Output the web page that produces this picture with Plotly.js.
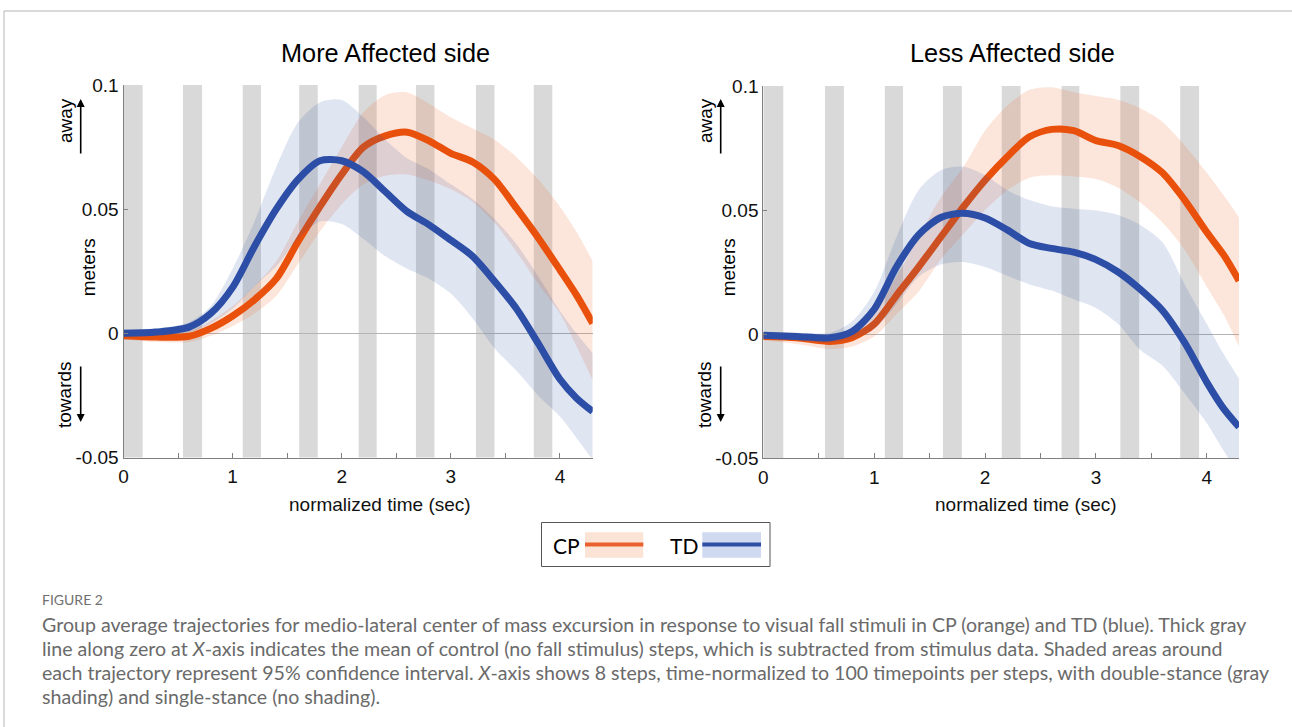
<!DOCTYPE html>
<html><head><meta charset="utf-8">
<script src="https://cdn.plot.ly/plotly-3.0.1.min.js"></script>
<style>html,body{margin:0;padding:0;background:#fff;}#chart{width:1292px;height:727px;}</style>
</head><body><div id="chart"></div>
<script>
// ---------- data ----------
const panelTitles = ['More Affected side', 'Less Affected side'];
const groupNames = ['CP', 'TD'];
const xAxisTitle = 'normalized time (sec)';
const yAxisTitle = 'meters';
const yUpLabel = 'away', yDownLabel = 'towards';
const xTickVals = [0, 0.5, 1, 1.5, 2, 2.5, 3, 3.5, 4];
const xTickText = ['0', '', '1', '', '2', '', '3', '', '4'];
const yTickVals = [-0.05, 0, 0.05, 0.1];
const yTickText = ['-0.05', '0', '0.05', '0.1'];

// double-stance phases (gray shading), seconds
const stanceStartLeft = [0, 0.545, 1.093, 1.61, 2.155, 2.68, 3.23, 3.76];
const stanceEndLeft   = [0.175, 0.72, 1.26, 1.78, 2.32, 2.85, 3.40, 3.93];
const stanceStartRight = [0, 0.556, 1.096, 1.62, 2.15, 2.69, 3.22, 3.76];
const stanceEndRight   = [0.18, 0.727, 1.26, 1.79, 2.32, 2.85, 3.39, 3.93];

// More Affected side
const tLeft = [0, 0.3, 0.6, 0.8, 1.0, 1.2, 1.4, 1.6, 1.8, 2.0, 2.2, 2.4, 2.6, 2.8, 3.0, 3.2, 3.4, 3.6, 3.8, 4.0, 4.15, 4.3];
const cpMeanLeft = [-0.001, -0.0015, -0.0012, 0.002, 0.007, 0.0135, 0.022, 0.037, 0.051, 0.064, 0.075, 0.0795, 0.081, 0.0775, 0.0725, 0.069, 0.062, 0.0505, 0.0385, 0.0255, 0.0155, 0.004];
const cpHiLeft   = [0.0005, 0.0005, 0.001, 0.005, 0.011, 0.019, 0.029, 0.045, 0.060, 0.075, 0.089, 0.096, 0.097, 0.0925, 0.087, 0.0825, 0.078, 0.071, 0.062, 0.051, 0.041, 0.029];
const cpLoLeft   = [-0.0025, -0.0035, -0.0035, -0.001, 0.003, 0.008, 0.015, 0.028, 0.041, 0.052, 0.060, 0.0635, 0.064, 0.0615, 0.058, 0.053, 0.0445, 0.033, 0.020, 0.008, -0.005, -0.019];
const tdMeanLeft = [0, 0.0005, 0.0025, 0.008, 0.0185, 0.035, 0.050, 0.062, 0.0695, 0.0695, 0.065, 0.057, 0.049, 0.0437, 0.0375, 0.031, 0.021, 0.010, -0.004, -0.0185, -0.026, -0.0315];
const tdHiLeft   = [0.0015, 0.002, 0.0045, 0.011, 0.026, 0.045, 0.067, 0.085, 0.093, 0.094, 0.087, 0.078, 0.0705, 0.066, 0.060, 0.054, 0.046, 0.036, 0.023, 0.009, 0.000, -0.008];
const tdLoLeft   = [-0.0015, -0.001, 0.0005, 0.004, 0.010, 0.019, 0.027, 0.038, 0.045, 0.044, 0.038, 0.031, 0.026, 0.022, 0.016, 0.006, -0.006, -0.015, -0.025, -0.0335, -0.042, -0.051];

// Less Affected side
const tRight = [0, 0.3, 0.6, 0.8, 1.0, 1.2, 1.4, 1.6, 1.8, 2.0, 2.2, 2.4, 2.6, 2.8, 3.0, 3.2, 3.4, 3.6, 3.8, 4.0, 4.15, 4.29];
const cpMeanRight = [-0.001, -0.0015, -0.003, -0.0015, 0.004, 0.0155, 0.027, 0.039, 0.051, 0.062, 0.0715, 0.0795, 0.0825, 0.082, 0.078, 0.076, 0.0715, 0.065, 0.054, 0.041, 0.032, 0.0215];
const cpHiRight   = [0.0005, 0.0005, -0.0005, 0.002, 0.009, 0.023, 0.039, 0.055, 0.067, 0.082, 0.092, 0.0985, 0.0995, 0.0975, 0.096, 0.0945, 0.091, 0.0855, 0.076, 0.065, 0.056, 0.047];
const cpLoRight   = [-0.0025, -0.004, -0.006, -0.005, -0.001, 0.008, 0.017, 0.030, 0.040, 0.050, 0.058, 0.063, 0.064, 0.0635, 0.0625, 0.059, 0.053, 0.045, 0.034, 0.019, 0.008, -0.005];
const tdMeanRight = [-0.0005, -0.001, -0.0015, 0.001, 0.010, 0.027, 0.040, 0.047, 0.0487, 0.0468, 0.042, 0.0365, 0.0345, 0.033, 0.030, 0.025, 0.018, 0.0095, -0.0035, -0.0195, -0.030, -0.0375];
const tdHiRight   = [0.001, 0.0005, 0.0005, 0.005, 0.017, 0.039, 0.058, 0.066, 0.0675, 0.064, 0.058, 0.054, 0.0515, 0.0505, 0.0498, 0.048, 0.044, 0.037, 0.020, 0.004, -0.008, -0.018];
const tdLoRight   = [-0.002, -0.0025, -0.0035, -0.002, 0.002, 0.012, 0.023, 0.028, 0.029, 0.027, 0.0235, 0.020, 0.0175, 0.014, 0.0105, 0.004, -0.0065, -0.0128, -0.024, -0.036, -0.047, -0.057];

const captionHead = 'FIGURE 2';
const captionLines = [
  'Group average trajectories for medio-lateral center of mass excursion in response to visual fall stimuli in CP (orange) and TD (blue). Thick gray',
  'line along zero at <i>X</i>-axis indicates the mean of control (no fall stimulus) steps, which is subtracted from stimulus data. Shaded areas around',
  'each trajectory represent 95% confidence interval. <i>X</i>-axis shows 8 steps, time-normalized to 100 timepoints per steps, with double-stance (gray',
  'shading) and single-stance (no shading).'
];

// ---------- styles ----------
const W = 1292, H = 727;
const px = v => v / W, py = v => 1 - v / H;
const FONT = 'Liberation Sans, Arial, sans-serif';
const CAPFONT = 'Lato, Open Sans, sans-serif';
const cpLine = '#e9500c', tdLine = '#2d4ea6';
const cpFill = 'rgba(240,110,50,0.18)', tdFill = 'rgba(46,78,168,0.15)';

function bandTraces(t, lo, hi, fill, xa, ya, name) {
  return [
    {x: t, y: lo, type: 'scatter', mode: 'lines', line: {width: 0, shape: 'spline', smoothing: 0.8}, xaxis: xa, yaxis: ya, showlegend: false, hoverinfo: 'skip', name: name + ' lo'},
    {x: t, y: hi, type: 'scatter', mode: 'lines', fill: 'tonexty', fillcolor: fill, line: {width: 0, shape: 'spline', smoothing: 0.8}, xaxis: xa, yaxis: ya, showlegend: false, hoverinfo: 'skip', name: name + ' hi'}
  ];
}
function lineTrace(t, y, color, xa, ya, name) {
  return {x: t, y: y, type: 'scatter', mode: 'lines', line: {color: color, width: 7, shape: 'spline', smoothing: 0.8}, xaxis: xa, yaxis: ya, showlegend: false, name: name};
}

const traces = [
  ...bandTraces(tLeft, cpLoLeft, cpHiLeft, cpFill, 'x', 'y', groupNames[0]),
  lineTrace(tLeft, cpMeanLeft, cpLine, 'x', 'y', groupNames[0]),
  ...bandTraces(tLeft, tdLoLeft, tdHiLeft, tdFill, 'x', 'y', groupNames[1]),
  lineTrace(tLeft, tdMeanLeft, tdLine, 'x', 'y', groupNames[1]),
  ...bandTraces(tRight, cpLoRight, cpHiRight, cpFill, 'x2', 'y2', groupNames[0]),
  lineTrace(tRight, cpMeanRight, cpLine, 'x2', 'y2', groupNames[0]),
  ...bandTraces(tRight, tdLoRight, tdHiRight, tdFill, 'x2', 'y2', groupNames[1]),
  lineTrace(tRight, tdMeanRight, tdLine, 'x2', 'y2', groupNames[1])
];

const shapes = [];
function stanceShapes(starts, ends, xref, yref) {
  starts.forEach((s, i) => shapes.push({type: 'rect', xref: xref, yref: yref + ' domain', x0: s, x1: ends[i], y0: 0, y1: 1, fillcolor: '#d9d9d9', line: {width: 0}, layer: 'below'}));
}
stanceShapes(stanceStartLeft, stanceEndLeft, 'x', 'y');
stanceShapes(stanceStartRight, stanceEndRight, 'x2', 'y2');

// figure frame
shapes.push({type: 'line', xref: 'paper', yref: 'paper', x0: px(4), x1: px(1292), y0: py(11), y1: py(11), line: {color: '#b5b5b5', width: 1}});
shapes.push({type: 'line', xref: 'paper', yref: 'paper', x0: px(4), x1: px(4), y0: py(11), y1: py(727), line: {color: '#b5b5b5', width: 1}});
// legend box
shapes.push({type: 'rect', xref: 'paper', yref: 'paper', x0: px(541.5), x1: px(770), y0: py(522.5), y1: py(566.5), line: {color: '#555', width: 1}, fillcolor: 'rgba(0,0,0,0)'});
shapes.push({type: 'rect', xref: 'paper', yref: 'paper', x0: px(585), x1: px(643.3), y0: py(532.3), y1: py(557.7), line: {width: 0}, fillcolor: '#fbe3d5'});
shapes.push({type: 'line', xref: 'paper', yref: 'paper', x0: px(585), x1: px(643.3), y0: py(544.5), y1: py(544.5), line: {color: '#e9602e', width: 4}});
shapes.push({type: 'rect', xref: 'paper', yref: 'paper', x0: px(702.3), x1: px(761), y0: py(532.3), y1: py(557.7), line: {width: 0}, fillcolor: '#cfdaf0'});
shapes.push({type: 'line', xref: 'paper', yref: 'paper', x0: px(702.3), x1: px(761), y0: py(544.5), y1: py(544.5), line: {color: '#2f4fa6', width: 4}});

const annotations = [];
const ann = (x, y, text, size, extra) => annotations.push(Object.assign({xref: 'paper', yref: 'paper', x: px(x), y: py(y), text: text, showarrow: false, font: {family: FONT, size: size, color: '#000'}, xanchor: 'center', yanchor: 'middle'}, extra || {}));
ann(385, 53, panelTitles[0], 25.3);
ann(1012, 53, panelTitles[1], 25.3);
ann(380, 504, xAxisTitle, 19, {font: {family: FONT, size: 19, color: '#111'}});
ann(1026, 504, xAxisTitle, 19, {font: {family: FONT, size: 19, color: '#111'}});
[0, 640].forEach(dx => {
  ann(88.3 + dx, 267, yAxisTitle, 19, {textangle: -90});
  ann(65 + dx, 121, yUpLabel, 19, {textangle: -90});
  ann(65 + dx, 395, yDownLabel, 19, {textangle: -90});
  annotations.push({xref: 'paper', yref: 'paper', x: px(80.7 + dx), y: py(99), ax: 0, ay: 56, text: '', showarrow: true, arrowhead: 2, arrowsize: 1, arrowwidth: 1.6, arrowcolor: '#000'});
  annotations.push({xref: 'paper', yref: 'paper', x: px(80.7 + dx), y: py(422), ax: 0, ay: -57, text: '', showarrow: true, arrowhead: 2, arrowsize: 1, arrowwidth: 1.6, arrowcolor: '#000'});
});
ann(551, 545, groupNames[0], 21, {xanchor: 'left', font: {family: CAPFONT, size: 21, color: '#000'}});
ann(668, 545, groupNames[1], 21, {xanchor: 'left', font: {family: CAPFONT, size: 21, color: '#000'}});
ann(40, 599, captionHead, 14, {xanchor: 'left', font: {family: CAPFONT, size: 14, color: '#707070'}});
captionLines.forEach((l, i) => ann(40, 624 + 24 * i, l, 19.6, {xanchor: 'left', font: {family: CAPFONT, size: 19.6, color: '#6a6a6a'}}));

function xAxis(dom, maxX, anchor) {
  return {domain: dom, range: [0, maxX], anchor: anchor, showline: true, linecolor: '#808080', linewidth: 1,
    ticks: 'inside', ticklen: 5, tickcolor: '#808080', tickvals: xTickVals, ticktext: xTickText,
    tickfont: {family: FONT, size: 19, color: '#111'}, ticklabelstandoff: 2, showgrid: false, zeroline: false, fixedrange: true};
}
function yAxis(dom, anchor) {
  return {domain: dom, range: [-0.05, 0.1], anchor: anchor, showline: true, linecolor: '#808080', linewidth: 1,
    ticks: 'inside', ticklen: 4, tickcolor: '#808080', tickvals: yTickVals, ticktext: yTickText,
    tickfont: {family: FONT, size: 19, color: '#111'}, showgrid: false, zeroline: true, zerolinecolor: '#b4b4b4', zerolinewidth: 1, fixedrange: true};
}

const layout = {
  width: W, height: H, margin: {l: 0, r: 0, t: 0, b: 0}, paper_bgcolor: '#fff', plot_bgcolor: '#fff',
  showlegend: false,
  xaxis: xAxis([px(123.5), px(592.7)], 4.3, 'y'),
  yaxis: yAxis([py(457.5), py(85)], 'x'),
  xaxis2: xAxis([px(763.3), px(1239)], 4.29, 'y2'),
  yaxis2: yAxis([py(458), py(86)], 'x2'),
  shapes: shapes, annotations: annotations
};
Plotly.newPlot('chart', traces, layout, {staticPlot: true, displayModeBar: false});
</script></body></html>
